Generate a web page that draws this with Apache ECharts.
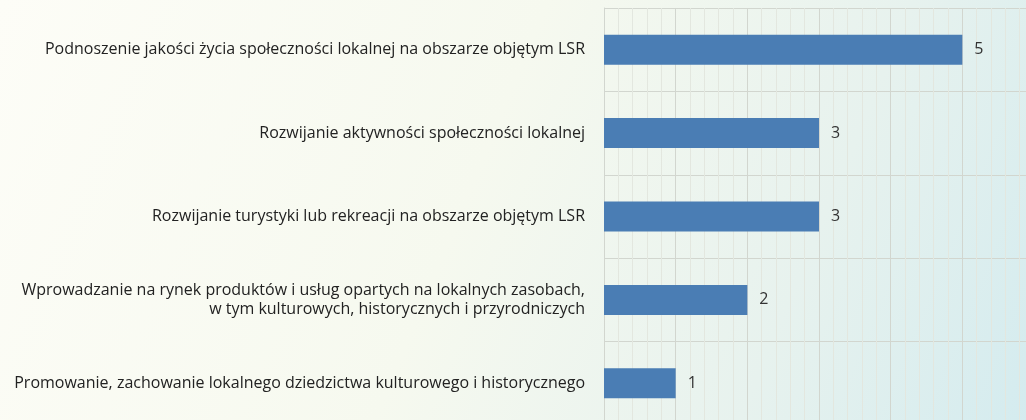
<!DOCTYPE html>
<html>
<head>
<meta charset="utf-8">
<script src="https://cdn.jsdelivr.net/npm/echarts@6/dist/echarts.min.js"></script>
<style>
  html, body { margin: 0; padding: 0; overflow: hidden; width: 1026px; height: 420px; }
  #chart { width: 1040px; height: 430px; }
</style>
</head>
<body>
<div id="chart"></div>
<script>
// dane
const categories = [
  'Podnoszenie jakości życia społeczności lokalnej na obszarze objętym LSR',
  'Rozwijanie aktywności społeczności lokalnej',
  'Rozwijanie turystyki lub rekreacji na obszarze objętym LSR',
  'Wprowadzanie na rynek produktów i usług opartych na lokalnych zasobach,\nw tym kulturowych, historycznych i przyrodniczych',
  'Promowanie, zachowanie lokalnego dziedzictwa kulturowego i historycznego'
]
const values = [5, 3, 3, 2, 1]

const chart = echarts.init(document.getElementById('chart'), null, { renderer: 'canvas' })

const gridColor = '#d2d6cf'
const minorColor = '#e3e7df'

chart.setOption({
  animation: false,
  backgroundColor: new echarts.graphic.LinearGradient(0, 0, 1, 1, [
    { offset: 0, color: '#fdfdf7' },
    { offset: 0.45, color: '#f6f9ef' },
    { offset: 0.75, color: '#e7f2ee' },
    { offset: 1, color: '#d3ebef' }
  ]),
  textStyle: { fontFamily: '"Open Sans", sans-serif' },
  grid: {
    left: 604,
    top: 8,
    width: 430,
    height: 417,
    containLabel: false
  },
  xAxis: {
    type: 'value',
    min: 0,
    max: 6,
    interval: 1,
    axisLabel: { show: false },
    axisLine: { show: false },
    axisTick: { show: false },
    splitLine: { show: true, lineStyle: { color: gridColor, width: 1 } },
    minorTick: { show: false, splitNumber: 5 },
    minorSplitLine: { show: true, lineStyle: { color: minorColor, width: 1 } }
  },
  yAxis: {
    type: 'category',
    inverse: true,
    data: categories,
    axisLine: { show: true, lineStyle: { color: gridColor, width: 1 } },
    axisTick: { show: false },
    splitLine: { show: true, lineStyle: { color: gridColor, width: 1 } },
    axisLabel: {
      color: '#222',
      fontSize: 16,
      margin: 19,
      align: 'right',
      lineHeight: 19
    }
  },
  series: [{
    type: 'bar',
    data: values,
    barWidth: 30,
    itemStyle: { color: '#4a7db4' },
    label: {
      show: true,
      position: 'right',
      distance: 12,
      color: '#333',
      fontSize: 16
    }
  }]
})
</script>
</body>
</html>
